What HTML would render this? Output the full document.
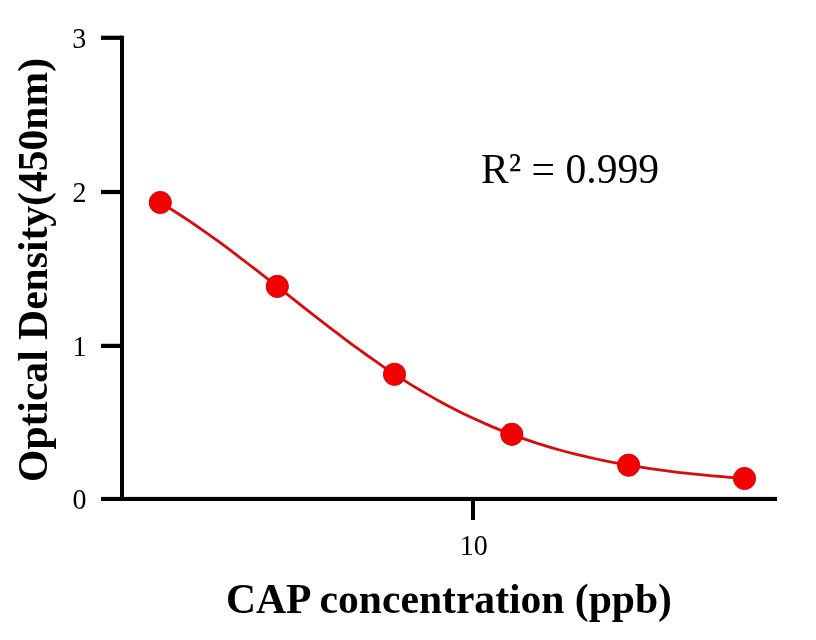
<!DOCTYPE html>
<html><head><meta charset="utf-8"><title>CAP standard curve</title>
<style>
html,body{margin:0;padding:0;background:#fff;}
body{width:816px;height:640px;overflow:hidden;}
svg{display:block;}
text{font-family:"Liberation Serif","Times New Roman",serif;fill:#000;}
.tick{font-size:28px;}
.title{font-size:41.6px;font-weight:bold;}
.r2{font-size:41.6px;}
</style></head>
<body>
<svg width="816" height="640" viewBox="0 0 816 640">
<rect width="816" height="640" fill="#fff"/>
<g fill="#000">
<rect x="120" y="35.7" width="4" height="465.3"/>
<rect x="101" y="496.9" width="676" height="4.1"/>
<rect x="101" y="35.7" width="21" height="4.2"/>
<rect x="101" y="189.9" width="21" height="4.2"/>
<rect x="101" y="343.8" width="21" height="4.2"/>
<rect x="471" y="499" width="4" height="21"/>
</g>
<path d="M160.3,202.5 L167.7,207.0 L175.1,211.7 L182.5,216.5 L189.9,221.4 L197.3,226.5 L204.7,231.6 L212.1,236.9 L219.5,242.2 L226.9,247.7 L234.2,253.2 L241.6,258.8 L249.0,264.5 L256.4,270.2 L263.8,275.9 L271.2,281.7 L278.6,287.6 L286.0,293.4 L293.4,299.2 L300.8,305.1 L308.2,310.9 L315.6,316.7 L323.0,322.4 L330.4,328.1 L337.8,333.7 L345.2,339.3 L352.6,344.8 L360.0,350.2 L367.4,355.5 L374.8,360.7 L382.1,365.8 L389.5,370.8 L396.9,375.7 L404.3,380.4 L411.7,385.1 L419.1,389.5 L426.5,393.9 L433.9,398.1 L441.3,402.2 L448.7,406.2 L456.1,410.0 L463.5,413.7 L470.9,417.2 L478.3,420.6 L485.7,423.9 L493.1,427.1 L500.5,430.1 L507.9,433.0 L515.3,435.8 L522.7,438.4 L530.0,440.9 L537.4,443.4 L544.8,445.7 L552.2,447.9 L559.6,450.0 L567.0,452.0 L574.4,453.9 L581.8,455.7 L589.2,457.4 L596.6,459.0 L604.0,460.6 L611.4,462.1 L618.8,463.4 L626.2,464.8 L633.6,466.0 L641.0,467.2 L648.4,468.3 L655.8,469.4 L663.2,470.4 L670.6,471.4 L677.9,472.3 L685.3,473.1 L692.7,473.9 L700.1,474.7 L707.5,475.4 L714.9,476.1 L722.3,476.7 L729.7,477.3 L737.1,477.9 L744.5,478.4" fill="none" stroke="#d80c0c" stroke-width="2.8"/>
<g fill="#f50000" stroke="#d40808" stroke-width="1">
<circle cx="160.3" cy="202.5" r="11.1"/>
<circle cx="277.3" cy="286.4" r="11.1"/>
<circle cx="394.5" cy="374.3" r="11.1"/>
<circle cx="511.8" cy="434.3" r="11.1"/>
<circle cx="628.6" cy="465.2" r="11.1"/>
<circle cx="744.5" cy="478.5" r="11.1"/>
</g>
<text class="tick" transform="translate(86.2,47.9) scale(1,1.05)" text-anchor="end">3</text>
<text class="tick" transform="translate(86.5,201.7) scale(1,1.05)" text-anchor="end">2</text>
<text class="tick" transform="translate(86.5,355.7) scale(1,1.05)" text-anchor="end">1</text>
<text class="tick" transform="translate(86.5,509) scale(1,1.05)" text-anchor="end">0</text>
<text class="tick" transform="translate(473.7,555) scale(1,1.05)" text-anchor="middle">10</text>
<text class="r2" transform="translate(481,183.4) scale(1,1.02)">R² = 0.999</text>
<text class="title" transform="translate(449,613.4) scale(1,1.01)" text-anchor="middle">CAP concentration (ppb)</text>
<text class="title" transform="translate(46.5,270) rotate(-90) scale(1,1.01)" text-anchor="middle">Optical Density(450nm)</text>
</svg>
</body></html>
